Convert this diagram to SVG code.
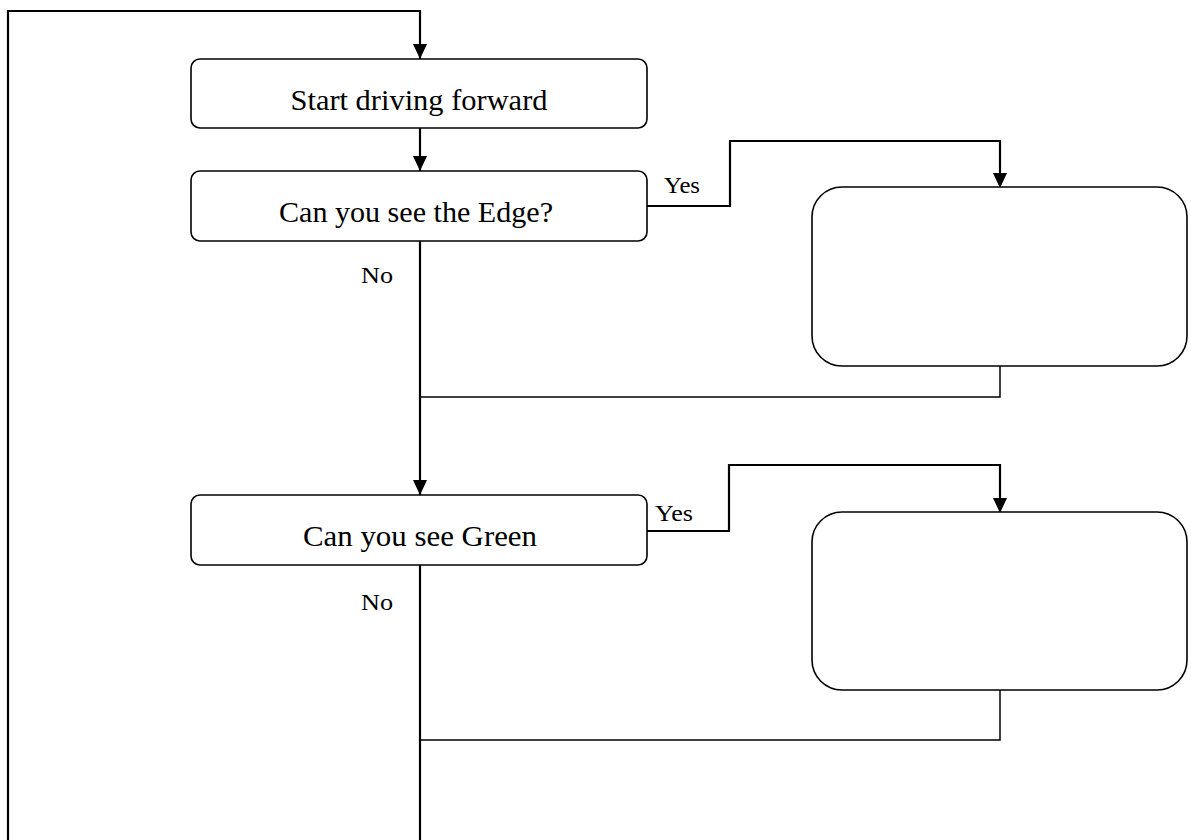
<svg xmlns="http://www.w3.org/2000/svg" width="1191" height="840" viewBox="0 0 1191 840">
<defs>
<marker id="arr" markerWidth="15" markerHeight="14" refX="15" refY="7" orient="auto" markerUnits="userSpaceOnUse">
<path d="M0,0 L15,7 L0,14 Z" fill="#000"/>
</marker>
<style>
.box{fill:#fff;stroke:#000;stroke-width:1.6}
.lbl{font-family:"Liberation Serif",serif;font-size:30px;text-anchor:middle;fill:#000}
.sm{font-family:"Liberation Serif",serif;font-size:24px;fill:#000}
.c{fill:none;stroke:#000;stroke-width:2.2}
.t{fill:none;stroke:#000;stroke-width:1.5}
</style>
</defs>
<rect width="1191" height="840" fill="#fff"/>
<g id="connectors">
<path class="c" d="M420,840 V565"/>
<path class="c" d="M8,840 V11 H420 V59" marker-end="url(#arr)"/>
<path class="c" d="M420,128 V171" marker-end="url(#arr)"/>
<path class="c" d="M647,206 H730 V141 H1000 V188" marker-end="url(#arr)"/>
<path class="c" d="M420,241 V495" marker-end="url(#arr)"/>
<path class="t" d="M1000,366 V397 H420"/>
<path class="c" d="M647,531 H729 V465 H1000 V513" marker-end="url(#arr)"/>
<path class="t" d="M1000,690 V740 H420"/>
</g>
<g id="start"><rect class="box" x="191" y="59" width="456" height="69" rx="9"/><text class="lbl" x="419" y="110" textLength="257" lengthAdjust="spacingAndGlyphs">Start driving forward</text></g>
<g id="edge"><rect class="box" x="191" y="171" width="456" height="70" rx="9"/><text class="lbl" x="416" y="222" textLength="274" lengthAdjust="spacingAndGlyphs">Can you see the Edge?</text></g>
<g id="action1"><rect class="box" x="812" y="187" width="375" height="179" rx="30"/></g>
<g id="green"><rect class="box" x="191" y="495" width="456" height="70" rx="9"/><text class="lbl" x="420" y="546" textLength="234" lengthAdjust="spacingAndGlyphs">Can you see Green</text></g>
<g id="action2"><rect class="box" x="812" y="512" width="375" height="178" rx="30"/></g>
<g id="labels">
<text class="sm" x="664" y="193" textLength="36" lengthAdjust="spacingAndGlyphs">Yes</text>
<text class="sm" x="361" y="283" textLength="32" lengthAdjust="spacingAndGlyphs">No</text>
<text class="sm" x="655" y="521" textLength="38" lengthAdjust="spacingAndGlyphs">Yes</text>
<text class="sm" x="361" y="610" textLength="32" lengthAdjust="spacingAndGlyphs">No</text>
</g>
</svg>
